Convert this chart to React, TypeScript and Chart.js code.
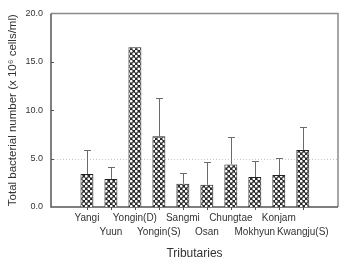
import React, { useEffect, useRef } from "react";
import { Chart, registerables } from "chart.js";

Chart.register(...registerables);

const categories = ["Yangi", "Yuun", "Yongin(D)", "Yongin(S)", "Sangmi", "Osan", "Chungtae", "Mokhyun", "Konjam", "Kwangju(S)"];
const means = [3.4, 2.9, 16.5, 7.3, 2.4, 2.3, 4.4, 3.1, 3.3, 5.9];
const upperErrors = [5.9, 4.1, 16.5, 11.3, 3.5, 4.7, 7.2, 4.8, 5.1, 8.3];
const yTicks = [0, 5, 10, 15, 20];

function makePattern(): CanvasPattern | string {
  const c = document.createElement("canvas");
  c.width = 5;
  c.height = 5;
  const g = c.getContext("2d");
  if (!g) return "#333";
  g.fillStyle = "#2a2a2a";
  g.fillRect(0, 0, 5, 5);
  g.fillStyle = "#ffffff";
  g.beginPath();
  g.arc(1.25, 1.25, 1.35, 0, Math.PI * 2);
  g.fill();
  g.beginPath();
  g.arc(3.75, 3.75, 1.35, 0, Math.PI * 2);
  g.fill();
  const p = g.createPattern(c, "repeat");
  return p || "#333";
}

const framePlugin = {
  id: "frame",
  beforeDatasetsDraw(chart: any) {
    const { ctx, chartArea } = chart;
    const y = chart.scales.y;
    const x = chart.scales.x;
    ctx.save();
    ctx.strokeStyle = "#c8c8c8";
    ctx.lineWidth = 1;
    ctx.setLineDash([1, 2]);
    ctx.beginPath();
    const y5 = Math.round(y.getPixelForValue(5)) + 0.5;
    ctx.moveTo(chartArea.left, y5);
    ctx.lineTo(chartArea.right, y5);
    ctx.stroke();
    ctx.setLineDash([]);
    ctx.strokeStyle = "#8a8a8a";
    ctx.lineWidth = 1.5;
    ctx.beginPath();
    ctx.moveTo(chartArea.left, chartArea.top);
    ctx.lineTo(chartArea.right, chartArea.top);
    ctx.lineTo(chartArea.right, chartArea.bottom);
    ctx.stroke();
    ctx.strokeStyle = "#555";
    ctx.lineWidth = 1.5;
    ctx.beginPath();
    ctx.moveTo(chartArea.left, chartArea.top);
    ctx.lineTo(chartArea.left, chartArea.bottom);
    ctx.lineTo(chartArea.right, chartArea.bottom);
    ctx.stroke();
    ctx.lineWidth = 1;
    ctx.beginPath();
    yTicks.forEach((v) => {
      if (v === 0 || v === 20) return;
      const py = Math.round(y.getPixelForValue(v)) + 0.5;
      ctx.moveTo(chartArea.left, py);
      ctx.lineTo(chartArea.left + 3, py);
    });
    categories.forEach((_, i) => {
      const px = Math.round(x.getPixelForValue(i)) + 0.5;
      ctx.moveTo(px, chartArea.bottom);
      ctx.lineTo(px, chartArea.bottom + 3);
    });
    ctx.stroke();
    ctx.restore();
  },
  afterDatasetsDraw(chart: any) {
    const { ctx } = chart;
    const y = chart.scales.y;
    const x = chart.scales.x;
    ctx.save();
    ctx.strokeStyle = "#6a6a6a";
    ctx.lineWidth = 1;
    categories.forEach((_, i) => {
      if (upperErrors[i] <= means[i]) return;
      const px = Math.round(x.getPixelForValue(i)) + 0.5;
      const top = Math.round(y.getPixelForValue(upperErrors[i])) + 0.5;
      const base = y.getPixelForValue(means[i]);
      ctx.beginPath();
      ctx.moveTo(px, base);
      ctx.lineTo(px, top);
      ctx.moveTo(px - 3.5, top);
      ctx.lineTo(px + 3.5, top);
      ctx.stroke();
    });
    ctx.restore();
  },
};

const FONT = "'Liberation Sans', Arial, sans-serif";

export default function App() {
  const ref = useRef<HTMLCanvasElement | null>(null);
  useEffect(() => {
    document.body.style.margin = "0";
    const canvas = ref.current;
    if (!canvas) return;
    const pattern = makePattern();
    const chart = new Chart(canvas, {
      type: "bar",
      data: {
        datasets: [
          {
            data: means.map((v, i) => ({ x: i, y: v })),
            backgroundColor: pattern as any,
            borderColor: "#222",
            borderWidth: 1,
            barPercentage: 0.54,
            categoryPercentage: 1,
          },
        ],
      },
      options: {
        animation: false,
        responsive: false,
        maintainAspectRatio: false,
        layout: { padding: { top: 10, right: 4, left: 0, bottom: 0 } },
        plugins: { legend: { display: false }, tooltip: { enabled: false } },
        scales: {
          x: {
            type: "linear",
            min: -0.9,
            max: 9.87,
            grid: { display: false, drawTicks: false },
            border: { display: false },
            afterBuildTicks: (scale: any) => {
              scale.ticks = categories.map((_, i) => ({ value: i }));
            },
            afterFit: (scale: any) => {
              scale.height = 54;
            },
            ticks: {
              autoSkip: false,
              maxRotation: 0,
              minRotation: 0,
              padding: 4,
              color: "#333",
              font: { family: FONT, size: 10, lineHeight: 1.4 },
              callback: (v: any) => {
                const i = Math.round(Number(v));
                const l = categories[i] ?? "";
                return i % 2 === 0 ? [l, ""] : ["", l];
              },
            },
            title: {
              display: true,
              text: "Tributaries",
              color: "#333",
              padding: { top: 0, bottom: 0 },
              font: { family: FONT, size: 12 },
            },
          },
          y: {
            min: 0,
            max: 20,
            grid: { display: false, drawTicks: false },
            border: { display: false },
            afterFit: (scale: any) => {
              scale.width = 51;
            },
            ticks: {
              stepSize: 5,
              padding: 8,
              color: "#333",
              font: { family: FONT, size: 9 },
              callback: (v: any) => Number(v).toFixed(1),
            },
            title: {
              display: true,
              text: "Total bacterial number (x 10\u2076 cells/ml)",
              color: "#333",
              padding: { top: 6, bottom: 0 },
              font: { family: FONT, size: 11.5 },
            },
          },
        },
      },
      plugins: [framePlugin],
    });
    return () => chart.destroy();
  }, []);
  return <canvas ref={ref} width={342} height={261} style={{ display: "block" }} />;
}
